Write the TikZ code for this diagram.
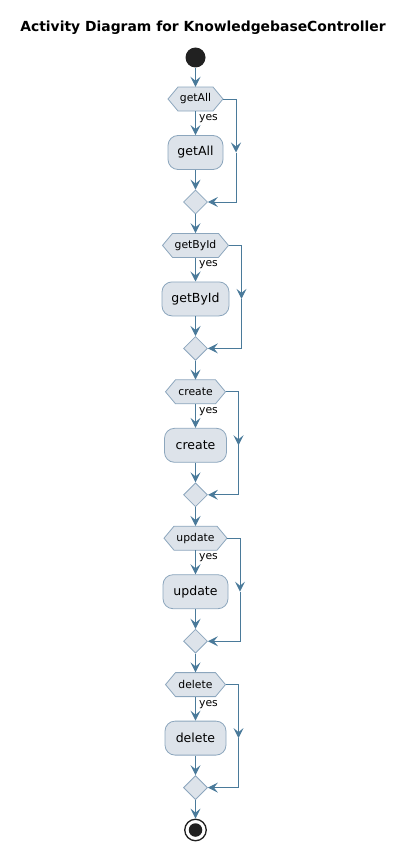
\documentclass[tikz,border=0pt]{standalone}
\usepackage{fontspec}
\setmainfont{DejaVu Sans}
\usetikzlibrary{shapes.geometric,arrows.meta}
\definecolor{nodefill}{HTML}{DDE3EA}
\definecolor{nodeline}{HTML}{8CA6BD}
\definecolor{flowc}{HTML}{4A7A9A}
\tikzset{
  flow/.style={draw=flowc, line width=1pt, -{Stealth[length=10pt,width=10pt,inset=4pt]}},
  hexshape/.style={fill=nodefill, draw=nodeline, line width=0.8pt, line join=miter},
  hextext/.style={rectangle, inner sep=0pt, minimum height=24pt, font=\fontsize{10.8}{12}\selectfont},
  actbox/.style={rectangle, rounded corners=10pt, fill=nodefill, draw=nodeline, line width=0.8pt, minimum height=34pt, inner sep=0pt, font=\fontsize{12.5}{14}\selectfont},
  merge/.style={diamond, fill=nodefill, draw=nodeline, line width=0.8pt, minimum width=24pt, minimum height=24pt, inner sep=0pt},
  yeslabel/.style={anchor=west, inner sep=0pt, font=\fontsize{10.8}{12}\selectfont},
  titletext/.style={font=\bfseries\fontsize{13.9}{16}\selectfont},
}
\begin{document}
\begin{tikzpicture}[x=1pt,y=-1pt]
\useasboundingbox (0,0) rectangle (408,851);
\node[titletext] (title) at (203,28) {Activity Diagram for KnowledgebaseController};
\node[circle, fill=black!87, minimum size=20pt, inner sep=0pt] (start) at (195.5,57.5) {};
\foreach \i/\t/\hw/\bw in {0/getAll/55/55, 1/getById/66/67, 2/create/60/62, 3/update/63/65, 4/delete/60/61}{
  \pgfmathsetmacro{\hy}{99+146.4*\i}
  \pgfmathsetmacro{\by}{\hy+53.5}
  \pgfmathsetmacro{\dy}{\hy+103}
  \pgfmathsetmacro{\hl}{195.5-\hw/2}
  \pgfmathsetmacro{\hr}{195.5+\hw/2}
  \pgfmathsetmacro{\bx}{\hr+13}
  \path[hexshape] (\hl,\hy) -- (\hl+10,\hy-12) -- (\hr-10,\hy-12) -- (\hr,\hy) -- (\hr-10,\hy+12) -- (\hl+10,\hy+12) -- cycle;
  \node[hextext, minimum width=\hw pt] (h\i) at (195.5,\hy) {\t};
  \node[actbox, minimum width=\bw pt] (b\i) at (195.5,\by) {\t};
  \node[merge] (d\i) at (195.5,\dy) {};
  \node[yeslabel] (y\i) at (199,\hy+19.5) {yes};
  \coordinate (m\i) at (\bx,{(\hy+\dy)/2+2});
  \draw[flow] (h\i.south) -- (b\i.north);
  \draw[flow] (b\i.south) -- (d\i.north);
  \draw[flow] (h\i.east) -| (m\i);
  \draw[flow] (m\i) |- (d\i.east);
}
\draw[flow] (start) -- (h0.north);
\foreach \i [evaluate=\i as \j using int(\i+1)] in {0,1,2,3}{
  \draw[flow] (d\i.south) -- (h\j.north);
}
\node[circle, draw=black!87, line width=1.3pt, minimum size=21.5pt, inner sep=0pt] (endring) at (195.5,830) {};
\node[circle, fill=black!87, minimum size=13.5pt, inner sep=0pt] (enddot) at (195.5,830) {};
\draw[flow] (d4.south) -- (endring.north);
\end{tikzpicture}
\end{document}
